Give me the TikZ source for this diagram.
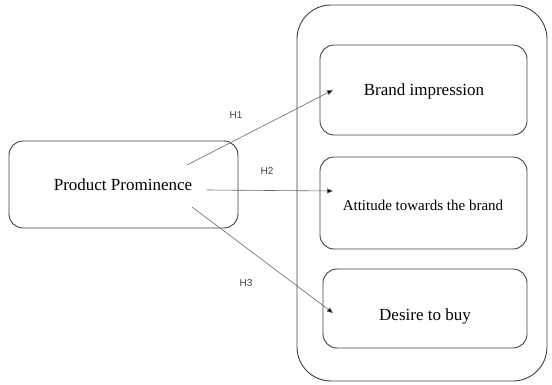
\documentclass[tikz,border=0pt]{standalone}
\usepackage{fontspec}
\setmainfont{Liberation Serif}
\newfontfamily\lsans{Liberation Sans}
\usetikzlibrary{arrows.meta}
\begin{document}
\begin{tikzpicture}[x=1pt,y=-1pt,
  box/.style={draw=black!75,line width=0.9pt,rounded corners=14pt},
  conn/.style={draw=black!60,line width=0.6pt,-{Triangle[length=6pt,width=5pt,fill=black]}},
  hlab/.style={font=\lsans\fontsize{10}{12}\selectfont,text=black!75},
  big/.style={font=\fontsize{17}{20}\selectfont},
  small/.style={font=\fontsize{15}{18}\selectfont}]
\useasboundingbox (0,0) rectangle (552,385);
\draw[draw=black!75,line width=0.9pt,rounded corners=34pt] (297,5) rectangle (547,381);
\draw[box] (320,45) rectangle (527,135);
\draw[box] (320,157) rectangle (527,249);
\draw[box] (323,269) rectangle (527,348);
\draw[box] (9,141) rectangle (238,228);
\node[big] (pp) at (123,185) {Product Prominence};
\node[big] (bi) at (424,91) {Brand impression};
\node[small] (at) at (423,205) {Attitude towards the brand};
\node[big] (dt) at (425,316) {Desire to buy};
\coordinate (s1) at (187,165);
\coordinate (e1) at (333,90);
\coordinate (s2) at (207,190);
\coordinate (e2) at (333,191);
\coordinate (s3) at (192,207);
\coordinate (e3) at (333,313);
\draw[conn] (s1) -- (e1);
\draw[conn] (s2) -- (e2);
\draw[conn] (s3) -- (e3);
\node[hlab] (h1) at (236,115) {H1};
\node[hlab] (h2) at (267,171) {H2};
\node[hlab] (h3) at (246,283) {H3};
\end{tikzpicture}
\end{document}
